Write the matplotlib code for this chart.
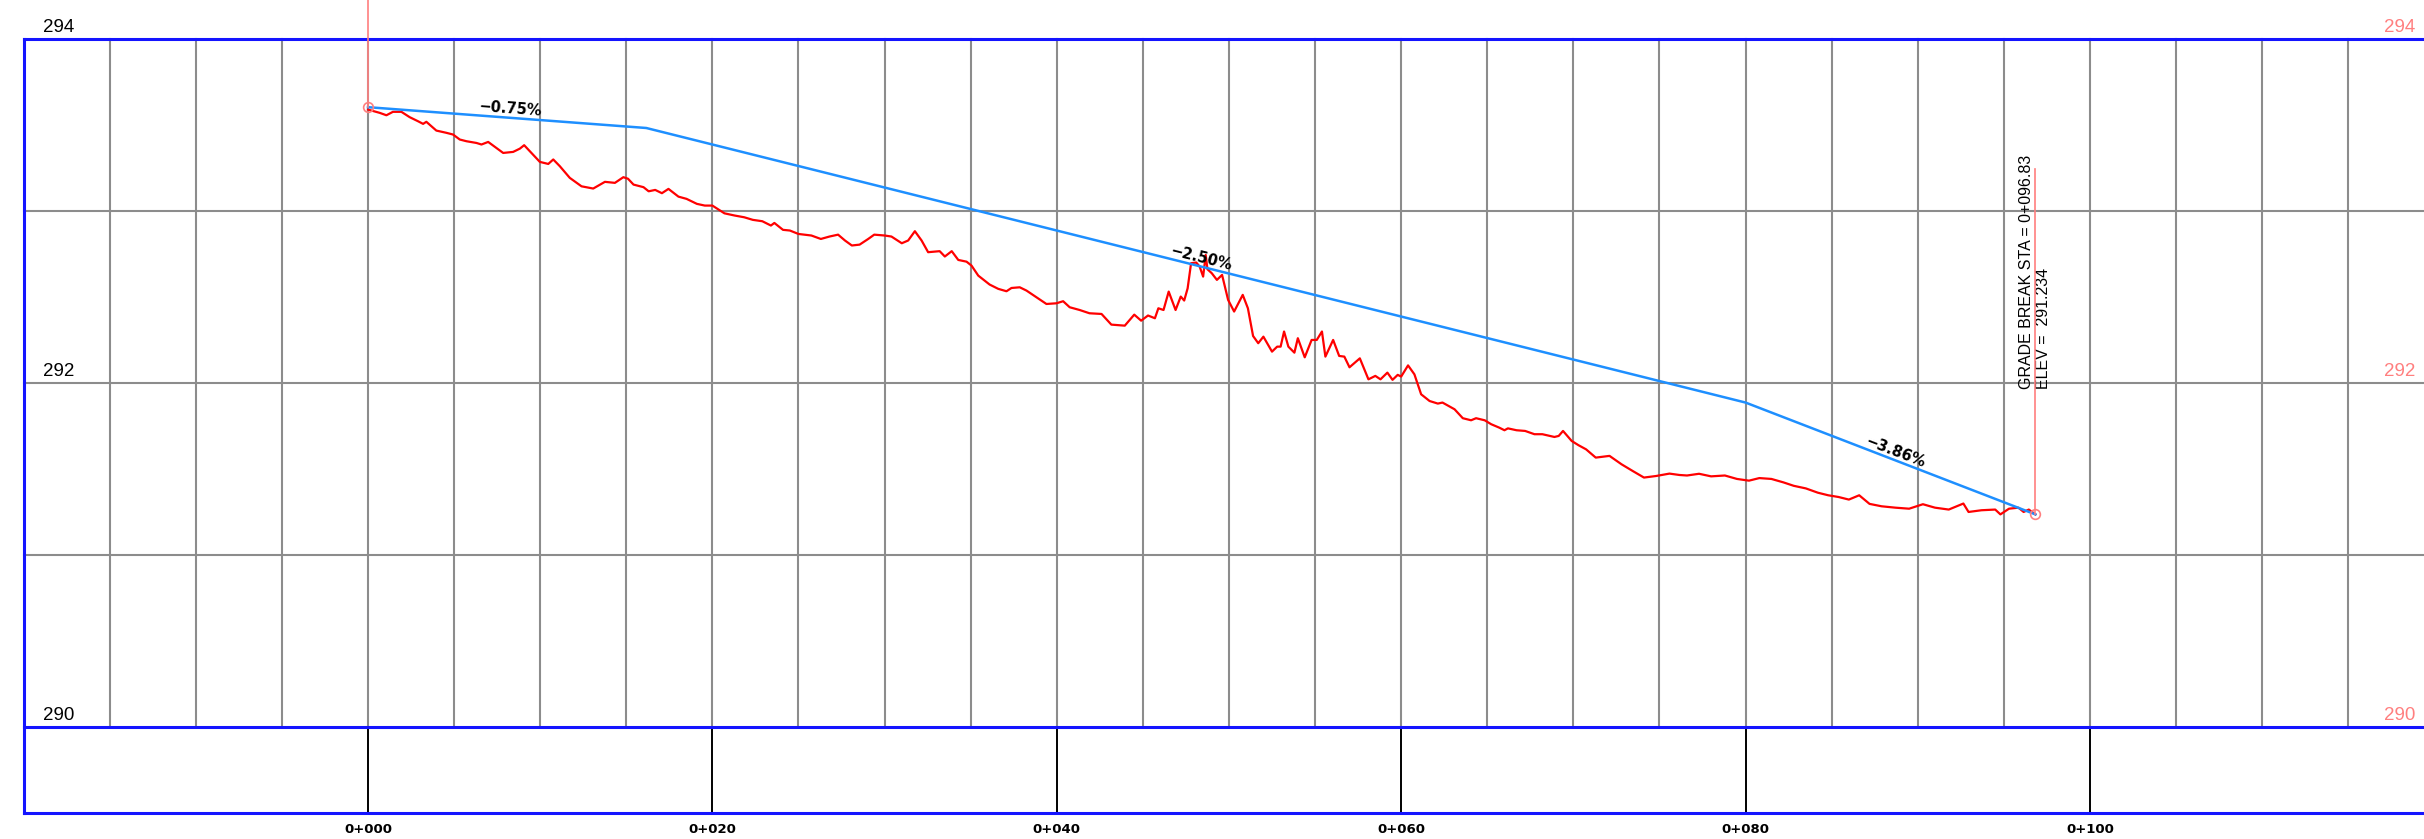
import numpy as np
import matplotlib.pyplot as plt

# Existing ground profile (station m, elevation m)
ground_sta = [0.0, 0.68, 1.07, 1.45, 1.94, 2.42, 2.91, 3.2, 3.39, 3.97, 4.55, 4.94,
              5.33, 5.72, 6.3, 6.59, 6.98, 7.46, 7.85, 8.43, 8.82, 9.07, 9.4, 9.98,
              10.47, 10.76, 11.14, 11.72, 12.4, 13.08, 13.76, 14.34, 14.83, 15.1, 15.42, 16.0,
              16.3, 16.68, 17.07, 17.45, 18.03, 18.5, 19.1, 19.56, 20.0, 20.7, 21.3, 21.85,
              22.35, 22.9, 23.4, 23.6, 24.1, 24.5, 25.0, 25.75, 26.3, 26.8, 27.3, 27.7,
              28.1, 28.55, 29.05, 29.4, 30.0, 30.4, 31.0, 31.37, 31.76, 32.15, 32.53, 33.2,
              33.5, 33.9, 34.28, 34.76, 35.05, 35.44, 36.1, 36.6, 37.08, 37.37, 37.85, 38.24,
              38.82, 39.4, 39.98, 40.37, 40.75, 41.33, 41.9, 42.6, 43.17, 43.95, 44.5, 44.9,
              45.3, 45.7, 45.9, 46.2, 46.5, 46.9, 47.2, 47.4, 47.6, 47.8, 48.1, 48.3,
              48.5, 48.65, 48.75, 49.0, 49.3, 49.6, 49.95, 50.3, 50.8, 51.1, 51.4, 51.7,
              52.0, 52.5, 52.8, 53.0, 53.2, 53.45, 53.8, 54.0, 54.4, 54.8, 55.1, 55.4,
              55.6, 56.05, 56.4, 56.7, 57.0, 57.6, 58.1, 58.5, 58.8, 59.2, 59.5, 59.8,
              60.0, 60.4, 60.77, 61.16, 61.65, 62.13, 62.4, 63.1, 63.58, 64.06, 64.35, 64.85,
              65.23, 65.7, 66.0, 66.2, 66.7, 67.2, 67.74, 68.2, 68.9, 69.15, 69.4, 69.9,
              70.3, 70.74, 71.3, 72.1, 72.8, 73.45, 74.1, 74.8, 75.58, 76.16, 76.6, 77.3,
              78.0, 78.8, 79.5, 80.2, 80.8, 81.5, 82.2, 82.8, 83.5, 84.2, 84.8, 85.4,
              86.0, 86.6, 87.2, 87.9, 88.7, 89.5, 90.3, 91.0, 91.8, 92.65, 92.95, 93.7,
              94.5, 94.8, 95.3, 95.85, 96.15, 96.45, 96.83]
ground_elev = [293.587, 293.568, 293.554, 293.574, 293.574, 293.543, 293.519, 293.504, 293.516, 293.465, 293.452, 293.442,
               293.413, 293.403, 293.393, 293.384, 293.399, 293.364, 293.335, 293.341, 293.360, 293.380, 293.345, 293.283,
               293.271, 293.297, 293.258, 293.190, 293.141, 293.128, 293.167, 293.161, 293.194, 293.185, 293.151, 293.136,
               293.112, 293.120, 293.101, 293.126, 293.081, 293.068, 293.039, 293.029, 293.029, 292.984, 292.971, 292.961,
               292.946, 292.938, 292.913, 292.928, 292.888, 292.884, 292.864, 292.855, 292.835, 292.849, 292.860, 292.826,
               292.797, 292.802, 292.835, 292.860, 292.855, 292.849, 292.810, 292.826, 292.880, 292.826, 292.758, 292.764,
               292.733, 292.764, 292.713, 292.703, 292.680, 292.622, 292.570, 292.545, 292.531, 292.550, 292.554, 292.535,
               292.496, 292.457, 292.461, 292.473, 292.438, 292.422, 292.403, 292.399, 292.337, 292.331, 292.395, 292.360,
               292.390, 292.374, 292.432, 292.422, 292.529, 292.422, 292.500, 292.477, 292.548, 292.694, 292.698, 292.674,
               292.616, 292.742, 292.659, 292.636, 292.597, 292.626, 292.481, 292.413, 292.510, 292.432, 292.271, 292.229,
               292.267, 292.180, 292.209, 292.209, 292.297, 292.209, 292.174, 292.258, 292.147, 292.248, 292.248, 292.297,
               292.151, 292.248, 292.155, 292.151, 292.089, 292.141, 292.019, 292.039, 292.019, 292.058, 292.016, 292.045,
               292.035, 292.100, 292.048, 291.932, 291.893, 291.878, 291.884, 291.845, 291.793, 291.781, 291.793, 291.781,
               291.758, 291.738, 291.723, 291.734, 291.723, 291.719, 291.700, 291.700, 291.684, 291.690, 291.719, 291.661,
               291.636, 291.612, 291.564, 291.574, 291.525, 291.486, 291.448, 291.457, 291.471, 291.463, 291.460, 291.470,
               291.455, 291.460, 291.440, 291.430, 291.445, 291.440, 291.420, 291.400, 291.385, 291.360, 291.345, 291.335,
               291.320, 291.345, 291.295, 291.281, 291.273, 291.267, 291.293, 291.273, 291.262, 291.297, 291.248, 291.258,
               291.262, 291.234, 291.267, 291.273, 291.248, 291.262, 291.234]

# Design grade line (PVI points)
pvi_sta = [0.0, 16.16, 80.0, 96.83]
pvi_elev = [293.601, 293.480, 291.884, 291.234]
grade_text = ["\u22120.75%", "\u22122.50%", "\u22123.86%"]
grade_text_sta = [8.25, 48.4, 88.7]

# Axis labels
elev_ticks = [294, 292, 290]
grid_elev = [293, 292, 291]
station_ticks = [0, 20, 40, 60, 80, 100]
station_labels = ["0+000", "0+020", "0+040", "0+060", "0+080", "0+100"]

BLUE = "#1414ff"
GRID = "#8c8c8c"
PINK = "#ff7f7f"

fig = plt.figure(figsize=(24.24, 8.39), dpi=100)
ax = fig.add_axes([0, 0, 1, 1])
ax.set_xlim(-21.37, 119.40)
ax.set_ylim(289.347, 294.224)
ax.axis("off")

# grid
for s in np.arange(-15, 120, 5):
    ax.plot([s, s], [290, 294], color=GRID, lw=1.5, zorder=1)
for e in grid_elev:
    ax.plot([-20, 119.4], [e, e], color=GRID, lw=1.5, zorder=1)

# frame (blue)
for e in [294, 290, 289.5]:
    ax.plot([-20, 119.4], [e, e], color=BLUE, lw=2.2, zorder=3)
ax.plot([-20, -20], [289.5, 294], color=BLUE, lw=2.2, zorder=3)

# station ticks in the bottom band
for s, lab in zip(station_ticks, station_labels):
    ax.plot([s, s], [289.5, 290], color="black", lw=1.4, zorder=2)
    ax.text(s, 289.40, lab, ha="center", va="center", fontsize=9.5,
            fontweight="bold", color="black")

# elevation labels
for e in elev_ticks:
    ax.text(-18.9, e + 0.015, str(e), ha="left", va="bottom", fontsize=13.5,
            family="Liberation Sans", color="black")
    ax.text(118.9, e + 0.015, str(e), ha="right", va="bottom", fontsize=13.5,
            family="Liberation Sans", color=PINK)

# ground line
ax.plot(ground_sta, ground_elev, color="red", lw=1.6, zorder=4)

# design line
ax.plot(pvi_sta, pvi_elev, color="#1e8fff", lw=1.8, zorder=5)
ax.plot([pvi_sta[0], pvi_sta[-1]], [pvi_elev[0], pvi_elev[-1]], "o", ms=7,
        mfc="none", mec=PINK, mew=1.2, zorder=6)
ax.plot([0, 0], [pvi_elev[0], 294.3], color=PINK, lw=1.2, zorder=6)
ax.plot([pvi_sta[-1], pvi_sta[-1]], [pvi_elev[-1], 293.24], color=PINK, lw=1.2, zorder=6)

# grade labels along the segments
fig.canvas.draw()
for i, (txt, s) in enumerate(zip(grade_text, grade_text_sta)):
    s0, s1 = pvi_sta[i], pvi_sta[i + 1]
    e0, e1 = pvi_elev[i], pvi_elev[i + 1]
    p0 = ax.transData.transform((s0, e0))
    p1 = ax.transData.transform((s1, e1))
    ang = np.degrees(np.arctan2(p1[1] - p0[1], p1[0] - p0[0]))
    e = e0 + (e1 - e0) * (s - s0) / (s1 - s0) + 0.05
    ax.text(s, e, txt, rotation=ang, rotation_mode="anchor", ha="center",
            va="center", fontsize=10.5, fontweight="bold", zorder=7)

ax.text(96.3, 291.96, "GRADE BREAK STA = 0+096.83", rotation=90,
        rotation_mode="anchor", ha="left", va="center", fontsize=11.5,
        family="Liberation Sans")
ax.text(97.3, 291.96, "ELEV =  291.234", rotation=90,
        rotation_mode="anchor", ha="left", va="center", fontsize=11.5,
        family="Liberation Sans")

plt.savefig("out.png", dpi=100)
